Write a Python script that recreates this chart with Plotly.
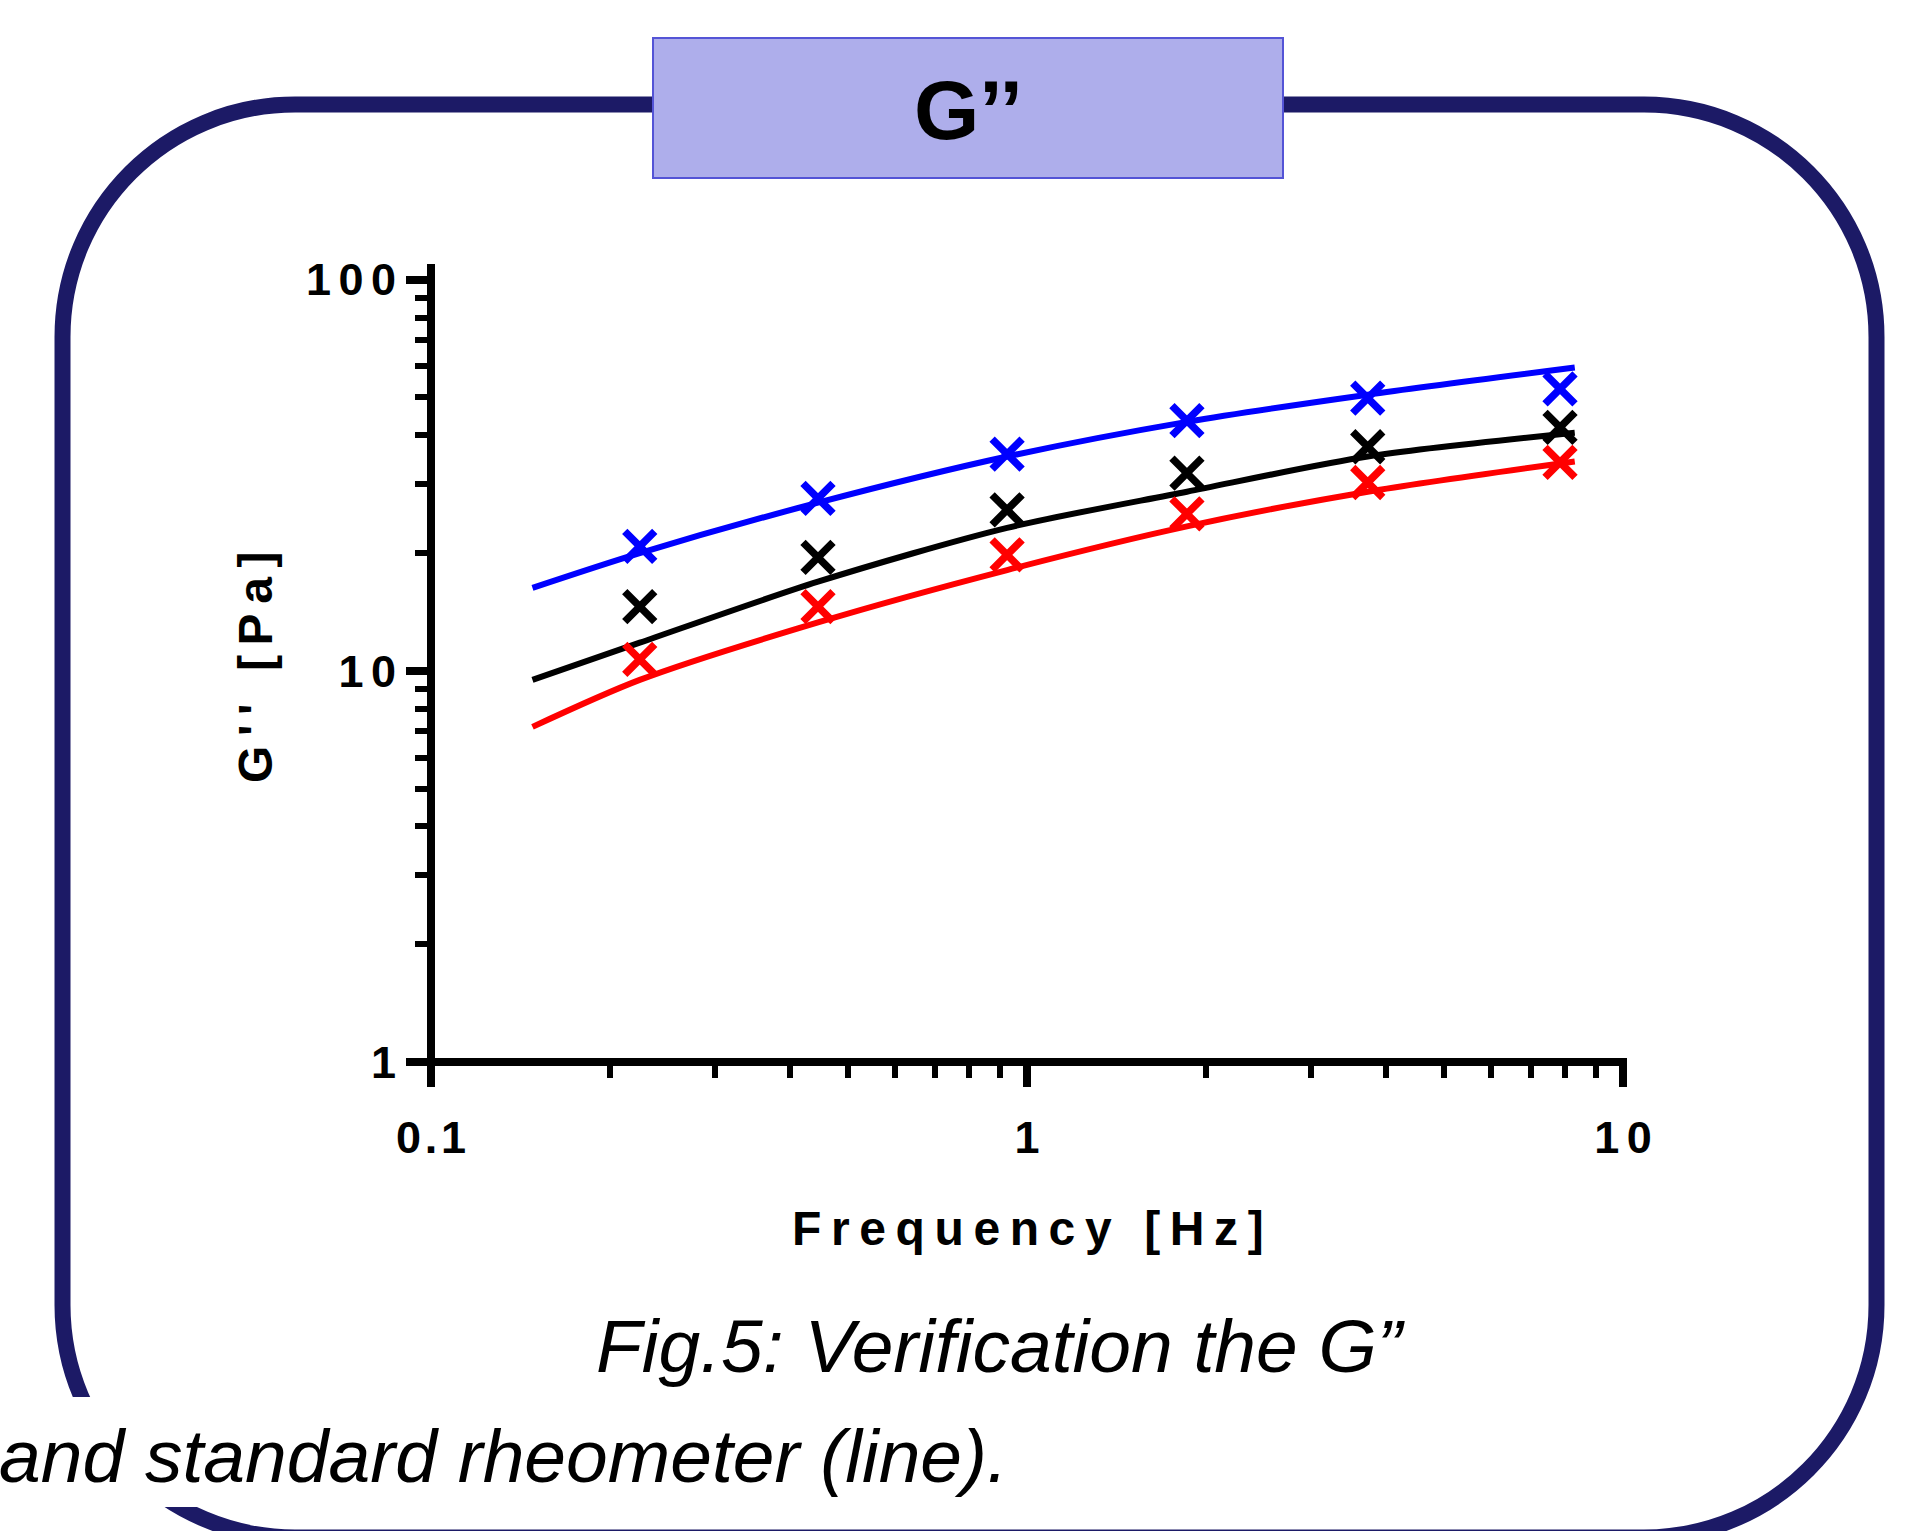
import plotly.graph_objects as go

# ---------------- data ----------------
freq_pts = [0.224, 0.446, 0.926, 1.855, 3.73, 7.84]
blue_pts = [20.8, 27.6, 35.8, 43.6, 49.8, 52.6]
black_pts = [14.6, 19.5, 25.8, 32.0, 37.4, 41.9]
red_pts = [10.7, 14.6, 19.8, 25.2, 30.3, 34.1]

freq_line = [0.148, 0.224, 0.446, 0.926, 1.855, 3.73, 8.3]
blue_line = [16.3, 20.0, 26.9, 35.3, 43.3, 50.8, 59.6]
black_line = [9.48, 11.8, 16.9, 23.2, 28.7, 35.3, 40.6]
red_line = [7.19, 9.48, 13.3, 18.1, 23.4, 28.7, 34.3]

x_tickvals = [0.1, 1, 10]
x_ticktext = ["0\u200a.\u200a1", "1", "1\u20060"]
y_tickvals = [1, 10, 100]
y_ticktext = ["1", "1\u20060", "1\u20060\u20060"]
x_minor = [0.2, 0.3, 0.4, 0.5, 0.6, 0.7, 0.8, 0.9, 2, 3, 4, 5, 6, 7, 8, 9]
y_minor = [2, 3, 4, 5, 6, 7, 8, 9, 20, 30, 40, 50, 60, 70, 80, 90]

colors = ["#0000ff", "#000000", "#ff0000"]

W, H = 1921, 1531
ML, MR, MT, MB = 431, 298, 264, 469
PW = W - ML - MR
PH = H - MT - MB


def px(x):
    return (x - ML) / PW


def py(y):
    return (H - MB - y) / PH


fig = go.Figure()

for line_vals, c in zip([blue_line, black_line, red_line], colors):
    fig.add_trace(go.Scatter(x=freq_line, y=line_vals, mode="lines",
                             line=dict(color=c, width=6, shape="spline", smoothing=0.8),
                             showlegend=False, hoverinfo="skip"))

for pts, c in zip([blue_pts, black_pts, red_pts], colors):
    fig.add_trace(go.Scatter(x=freq_pts, y=pts, mode="markers",
                             marker=dict(symbol="x-thin", size=30, color=c,
                                         line=dict(color=c, width=7.5)),
                             showlegend=False))

font_b = "Liberation Sans, Arial, sans-serif"

fig.update_xaxes(type="log", range=[-1, 1], showgrid=False, zeroline=False,
                 showline=False,
                 ticks="outside", ticklen=24, tickwidth=8, tickcolor="black",
                 tickvals=x_tickvals, ticktext=x_ticktext,
                 tickfont=dict(family=font_b, size=45, color="black", weight="bold"),
                 ticklabelstandoff=12,
                 minor=dict(tickvals=x_minor, ticks="outside", ticklen=15,
                            tickwidth=6, tickcolor="black", showgrid=False))
fig.update_yaxes(type="log", range=[0, 2.04], showgrid=False, zeroline=False,
                 showline=False,
                 ticks="outside", ticklen=24, tickwidth=8, tickcolor="black",
                 tickvals=y_tickvals, ticktext=y_ticktext,
                 tickfont=dict(family=font_b, size=45, color="black", weight="bold"),
                 ticklabelstandoff=1,
                 minor=dict(tickvals=y_minor, ticks="outside", ticklen=15,
                            tickwidth=6, tickcolor="black", showgrid=False))

# rounded frame
l, r, t, b, R = 62.5, 1876.5, 104.5, 1537.5, 232.5
k = 0.5523 * R


def P(x, y):
    return f"{px(x):.5f},{py(y):.5f}"


path = (f"M {P(l + R, t)} L {P(r - R, t)} C {P(r - R + k, t)} {P(r, t + R - k)} {P(r, t + R)} "
        f"L {P(r, b - R)} C {P(r, b - R + k)} {P(r - R + k, b)} {P(r - R, b)} "
        f"L {P(l + R, b)} C {P(l + R - k, b)} {P(l, b - R + k)} {P(l, b - R)} "
        f"L {P(l, t + R)} C {P(l, t + R - k)} {P(l + R - k, t)} {P(l + R, t)} Z")

shapes = [
    dict(type="path", path=path, xref="paper", yref="paper",
         line=dict(color="#1c1a66", width=16), fillcolor="rgba(0,0,0,0)", layer="below"),
    dict(type="rect", xref="paper", yref="paper", x0=px(653), x1=px(1283), y0=py(178), y1=py(38),
         fillcolor="#aeaeeb", line=dict(color="#5454d6", width=2), layer="above"),
    dict(type="rect", xref="paper", yref="paper", x0=px(-5), x1=px(1010), y0=py(1507), y1=py(1397),
         fillcolor="white", line=dict(width=0), layer="above"),
    # axis lines
    dict(type="line", xref="paper", yref="paper", x0=0, x1=0, y0=py(1066), y1=1,
         line=dict(color="black", width=8), layer="above"),
    dict(type="line", xref="paper", yref="paper", x0=px(427), x1=px(1627), y0=0, y1=0,
         line=dict(color="black", width=8), layer="above"),
]

annotations = [
    dict(text="G’’", x=px(968), y=py(110), xref="paper", yref="paper", showarrow=False,
         xanchor="center", yanchor="middle",
         font=dict(family=font_b, size=84, color="black", weight="bold")),
    dict(text="G\u2009'\u2009'\u2009 \u2009[\u2009P\u2009a\u2009]", x=px(255), y=py(668),
         xref="paper", yref="paper", showarrow=False, textangle=-90,
         xanchor="center", yanchor="middle",
         font=dict(family=font_b, size=48, color="black", weight="bold")),
    dict(text="\u2009".join(list("Frequency [Hz]")), x=px(1028), y=py(1228),
         xref="paper", yref="paper", showarrow=False, xanchor="center", yanchor="middle",
         font=dict(family=font_b, size=48, color="black", weight="bold")),
    dict(text="<i>Fig.5: Verification the G”</i>", x=px(594), y=py(1346),
         xref="paper", yref="paper", showarrow=False, xanchor="left", yanchor="middle",
         font=dict(family=font_b, size=75, color="black")),
    dict(text="<i>and standard rheometer (line).</i>", x=px(-3), y=py(1456),
         xref="paper", yref="paper", showarrow=False, xanchor="left", yanchor="middle",
         font=dict(family=font_b, size=75, color="black")),
]

fig.update_layout(width=W, height=H, margin=dict(l=ML, r=MR, t=MT, b=MB),
                  paper_bgcolor="white", plot_bgcolor="white",
                  shapes=shapes, annotations=annotations, showlegend=False)

fig.write_html("out.html", config={"displayModeBar": False},
               post_script="document.body.style.margin='0px';")
